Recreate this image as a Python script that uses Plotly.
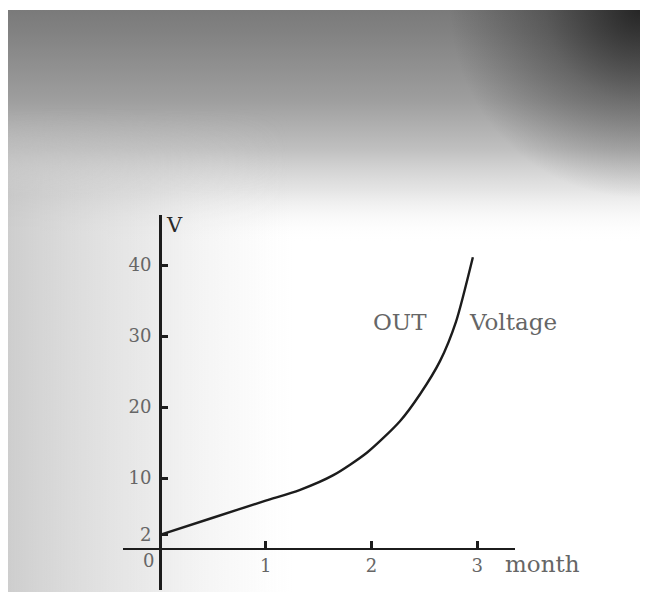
import base64
import plotly.graph_objects as go

# ---- data ----
months = [0, 0.5, 1.0, 1.32, 1.64, 1.96, 2.27, 2.46, 2.65, 2.80, 2.96]
voltage = [2, 4.4, 6.8, 8.3, 10.4, 13.6, 18.0, 21.8, 26.5, 32.0, 41.1]

y_ticks = [2, 10, 20, 30, 40]
y_ticktext = ["2", "10", "20", "30", "40"]
x_ticks = [1, 2, 3]
x_ticktext = ["1", "2", "3"]

# the page body adds an 8px margin, so the figure fills the rest of the window
W, H = 640, 584

# ---- paper-like scanned background (style only) ----
svg = f'''<svg xmlns="http://www.w3.org/2000/svg" width="{W}" height="{H}">
<defs>
<linearGradient id="v" x1="0" y1="0" x2="0" y2="1">
 <stop offset="0" stop-color="#7a7a7a"/>
 <stop offset="0.04" stop-color="#828282"/>
 <stop offset="0.155" stop-color="#9e9e9e"/>
 <stop offset="0.24" stop-color="#c0c0c0"/>
 <stop offset="0.31" stop-color="#dedede" stop-opacity="0.8"/>
 <stop offset="0.40" stop-color="#ffffff" stop-opacity="0"/>
</linearGradient>
<linearGradient id="h" x1="0" y1="0" x2="1" y2="0">
 <stop offset="0" stop-color="#bdbdbd" stop-opacity="0.75"/>
 <stop offset="0.22" stop-color="#cacaca" stop-opacity="0.4"/>
 <stop offset="0.45" stop-color="#e6e6e6" stop-opacity="0"/>
</linearGradient>
<linearGradient id="hv" x1="0" y1="0" x2="0" y2="1">
 <stop offset="0" stop-color="#ffffff" stop-opacity="0"/>
 <stop offset="0.15" stop-color="#ffffff" stop-opacity="1"/>
 <stop offset="1" stop-color="#ffffff" stop-opacity="1"/>
</linearGradient>
<mask id="m"><rect x="0" y="100" width="{W}" height="{H}" fill="url(#hv)"/></mask>
<radialGradient id="r" cx="632" cy="0" r="190" gradientUnits="userSpaceOnUse">
 <stop offset="0" stop-color="#161616" stop-opacity="0.85"/>
 <stop offset="0.5" stop-color="#161616" stop-opacity="0.35"/>
 <stop offset="1" stop-color="#161616" stop-opacity="0"/>
</radialGradient>
</defs>
<rect width="{W}" height="{H}" fill="#ffffff"/>
<rect x="0" y="2" width="632" height="582" fill="url(#v)"/>
<rect x="0" y="2" width="632" height="582" fill="url(#h)" mask="url(#m)"/>
<rect x="0" y="2" width="632" height="300" fill="url(#r)"/>
</svg>'''
bg_src = "data:image/svg+xml;base64," + base64.b64encode(svg.encode()).decode()

# ---- geometry (figure pixels) ----
x_left_px, x_right_px = 115, 507
y_top_px, y_bot_px = 207, 582
origin_x_px, origin_y_px = 152, 541
px_per_month = 105.7
px_per_volt = 7.1

x_range = [-(origin_x_px - x_left_px) / px_per_month, (x_right_px - origin_x_px) / px_per_month]
y_range = [-(y_bot_px - origin_y_px) / px_per_volt, (origin_y_px - y_top_px) / px_per_volt]

label_font = dict(family="DejaVu Serif, Liberation Serif, serif", size=18, color="#666666")
text_font = dict(family="DejaVu Serif, serif", size=23, color="#666666")
ink = "#1c1c1c"

fig = go.Figure()
fig.add_trace(go.Scatter(
    x=months, y=voltage, mode="lines",
    line=dict(color=ink, width=2.4, shape="spline", smoothing=0.7),
    showlegend=False, hoverinfo="skip",
))

fig.update_layout(
    width=W, height=H,
    margin=dict(l=0, r=0, t=0, b=0, pad=0),
    paper_bgcolor="white",
    plot_bgcolor="rgba(0,0,0,0)",
    images=[dict(source=bg_src, xref="paper", yref="paper", x=0, y=1,
                 sizex=1, sizey=1, xanchor="left", yanchor="top",
                 sizing="stretch", layer="below")],
    xaxis=dict(
        domain=[x_left_px / W, x_right_px / W],
        range=x_range, anchor="free", position=1 - origin_y_px / H,
        showline=True, linewidth=2, linecolor=ink,
        ticks="inside", ticklen=7, tickwidth=2.5, tickcolor=ink,
        tickvals=x_ticks, ticktext=x_ticktext, tickfont=label_font,
        ticklabelstandoff=0,
        showgrid=False, zeroline=False, automargin=False, fixedrange=True,
    ),
    yaxis=dict(
        domain=[1 - y_bot_px / H, 1 - y_top_px / H],
        range=y_range, anchor="free", position=origin_x_px / W,
        showline=True, linewidth=3, linecolor=ink,
        ticks="inside", ticklen=6, tickwidth=2.5, tickcolor=ink,
        tickvals=y_ticks, ticktext=y_ticktext, tickfont=label_font,
        ticklabelstandoff=4,
        showgrid=False, zeroline=False, automargin=False, fixedrange=True,
    ),
    annotations=[
        dict(text="0", x=0, y=0, xref="x", yref="y", showarrow=False,
             xshift=-12, yshift=-11, font=label_font),
        dict(text="V", x=0, y=y_range[1], xref="x", yref="y", showarrow=False,
             xanchor="left", yanchor="top", xshift=4, yshift=4,
             font=dict(family="DejaVu Serif, serif", size=21, color="#2a2a2a")),
        dict(text="month", x=x_range[1], y=0, xref="x", yref="y", showarrow=False,
             xanchor="left", yanchor="top", xshift=-12, yshift=0,
             font=text_font),
        dict(text="OUT", x=2.27, y=32.0, xref="x", yref="y", showarrow=False,
             xanchor="center", yanchor="middle", font=text_font),
        dict(text="Voltage", x=2.9, y=32.0, xref="x", yref="y", showarrow=False,
             xanchor="left", yanchor="middle", font=text_font),
    ],
)

fig.write_html("out.html")
